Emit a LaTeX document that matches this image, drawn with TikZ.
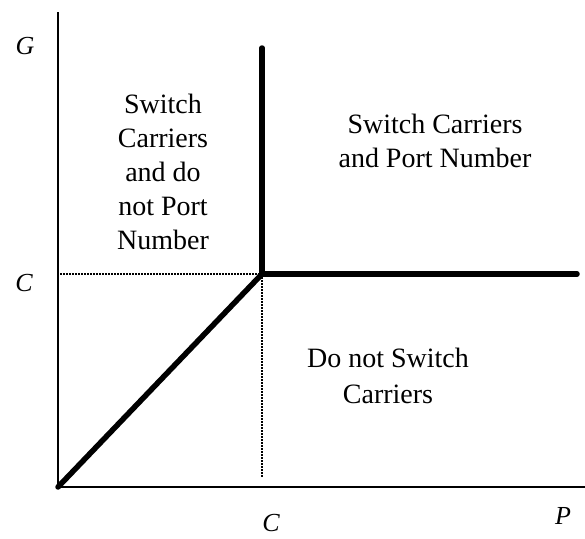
\documentclass[tikz,border=0pt]{standalone}
\usepackage{fontspec}
\setmainfont{Liberation Serif}

\begin{document}
\begin{tikzpicture}[
    x=1pt, y=-1pt,
    axis/.style={line width=2pt, draw=black},
    bound/.style={line width=5.5pt, draw=black, line cap=round},
    guide/.style={line width=1.2pt, draw=black, dash pattern=on 1.5pt off 1.5pt},
    region/.style={align=center, inner sep=0pt,
        font=\fontsize{28}{34}\selectfont},
    axlabel/.style={inner sep=0pt, font=\fontsize{26}{30}\selectfont\itshape}
]
\useasboundingbox (0,0) rectangle (585,538);

\coordinate (origin) at (58,487);
\coordinate (ytop)   at (58,12);
\coordinate (xend)   at (585,487);
\coordinate (corner) at (262,274);
\coordinate (vtop)   at (262,48);
\coordinate (hend)   at (577,274);
\coordinate (yguide) at (60,274);
\coordinate (xguide) at (262,477);

\draw[axis] (ytop) -- (origin) -- (xend);

\draw[guide] (yguide) -- (corner);
\draw[guide] (corner) -- (xguide);

\draw[bound] (origin) -- (corner);
\draw[bound] (vtop) -- (corner) -- (hend);

%------------------------------------------------
% Regions
%------------------------------------------------
\node[region] (nocarry) at (163,171.5)
    {Switch\\Carriers\\and do\\not Port\\Number};

\node[region] (both) at (435,141)
    {Switch Carriers\\and Port Number};

\node[region, font=\fontsize{28}{36}\selectfont] (none) at (388,375.5)
    {Do not Switch\\Carriers};

% axis labels
\node[axlabel] (glabel) at (25,46) {G};
\node[axlabel] (cylabel) at (24,283) {C};
\node[axlabel] (cxlabel) at (271,523) {C};
\node[axlabel] (plabel) at (563,516) {P};

\end{tikzpicture}
\end{document}
